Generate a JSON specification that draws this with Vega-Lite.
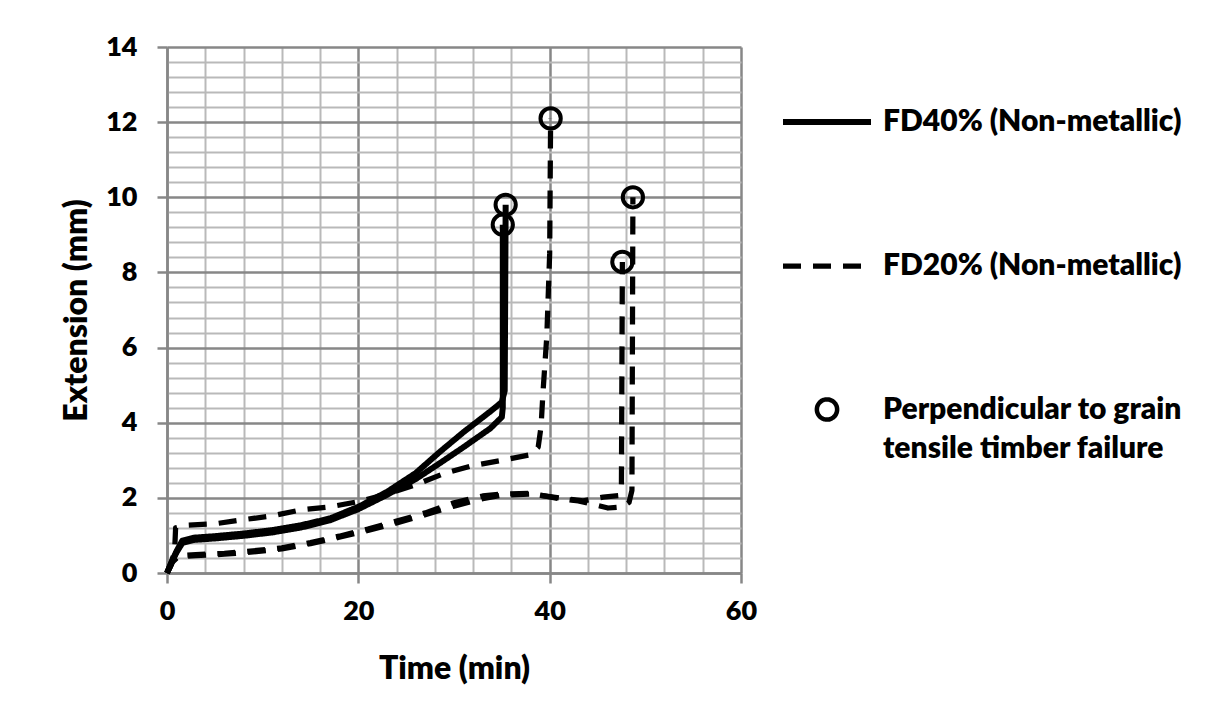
{
  "$schema": "https://vega.github.io/schema/vega-lite/v6.json",
  "width": 574,
  "height": 526,
  "autosize": {"type": "none"},
  "padding": {"left": 167, "top": 47, "right": 466, "bottom": 149},
  "background": "white",
  "config": {"view": {"stroke": null}, "font": "Lato", "style": {"guide-label": {"lineHeight": 39}}},
  "datasets": {
    "curves": [
      {"curve": "S1", "legend": "FD40% (Non-metallic)", "i": 0, "x": 0, "y": 0},
      {"curve": "S1", "legend": "FD40% (Non-metallic)", "i": 1, "x": 0.5, "y": 0.3},
      {"curve": "S1", "legend": "FD40% (Non-metallic)", "i": 2, "x": 1, "y": 0.58},
      {"curve": "S1", "legend": "FD40% (Non-metallic)", "i": 3, "x": 1.6, "y": 0.86},
      {"curve": "S1", "legend": "FD40% (Non-metallic)", "i": 4, "x": 2.8, "y": 0.94},
      {"curve": "S1", "legend": "FD40% (Non-metallic)", "i": 5, "x": 5, "y": 0.98},
      {"curve": "S1", "legend": "FD40% (Non-metallic)", "i": 6, "x": 8, "y": 1.05},
      {"curve": "S1", "legend": "FD40% (Non-metallic)", "i": 7, "x": 11, "y": 1.14},
      {"curve": "S1", "legend": "FD40% (Non-metallic)", "i": 8, "x": 14, "y": 1.27},
      {"curve": "S1", "legend": "FD40% (Non-metallic)", "i": 9, "x": 17, "y": 1.45},
      {"curve": "S1", "legend": "FD40% (Non-metallic)", "i": 10, "x": 20, "y": 1.76},
      {"curve": "S1", "legend": "FD40% (Non-metallic)", "i": 11, "x": 23, "y": 2.16},
      {"curve": "S1", "legend": "FD40% (Non-metallic)", "i": 12, "x": 26, "y": 2.66},
      {"curve": "S1", "legend": "FD40% (Non-metallic)", "i": 13, "x": 28.5, "y": 3.22},
      {"curve": "S1", "legend": "FD40% (Non-metallic)", "i": 14, "x": 31, "y": 3.75},
      {"curve": "S1", "legend": "FD40% (Non-metallic)", "i": 15, "x": 33.8, "y": 4.3},
      {"curve": "S1", "legend": "FD40% (Non-metallic)", "i": 16, "x": 35, "y": 4.55},
      {"curve": "S1", "legend": "FD40% (Non-metallic)", "i": 17, "x": 35.3, "y": 4.85},
      {"curve": "S1", "legend": "FD40% (Non-metallic)", "i": 18, "x": 35.4, "y": 9.8},
      {"curve": "S2", "legend": "FD40% (Non-metallic)", "i": 0, "x": 0, "y": 0},
      {"curve": "S2", "legend": "FD40% (Non-metallic)", "i": 1, "x": 0.5, "y": 0.3},
      {"curve": "S2", "legend": "FD40% (Non-metallic)", "i": 2, "x": 1, "y": 0.55},
      {"curve": "S2", "legend": "FD40% (Non-metallic)", "i": 3, "x": 1.6, "y": 0.8},
      {"curve": "S2", "legend": "FD40% (Non-metallic)", "i": 4, "x": 2.8, "y": 0.88},
      {"curve": "S2", "legend": "FD40% (Non-metallic)", "i": 5, "x": 5, "y": 0.92},
      {"curve": "S2", "legend": "FD40% (Non-metallic)", "i": 6, "x": 8, "y": 0.99},
      {"curve": "S2", "legend": "FD40% (Non-metallic)", "i": 7, "x": 11, "y": 1.08},
      {"curve": "S2", "legend": "FD40% (Non-metallic)", "i": 8, "x": 14, "y": 1.21},
      {"curve": "S2", "legend": "FD40% (Non-metallic)", "i": 9, "x": 17, "y": 1.4},
      {"curve": "S2", "legend": "FD40% (Non-metallic)", "i": 10, "x": 20, "y": 1.7},
      {"curve": "S2", "legend": "FD40% (Non-metallic)", "i": 11, "x": 23, "y": 2.08},
      {"curve": "S2", "legend": "FD40% (Non-metallic)", "i": 12, "x": 26, "y": 2.5},
      {"curve": "S2", "legend": "FD40% (Non-metallic)", "i": 13, "x": 28.5, "y": 2.92},
      {"curve": "S2", "legend": "FD40% (Non-metallic)", "i": 14, "x": 31, "y": 3.35},
      {"curve": "S2", "legend": "FD40% (Non-metallic)", "i": 15, "x": 33.8, "y": 3.85},
      {"curve": "S2", "legend": "FD40% (Non-metallic)", "i": 16, "x": 35, "y": 4.15},
      {"curve": "S2", "legend": "FD40% (Non-metallic)", "i": 17, "x": 35.1, "y": 4.4},
      {"curve": "S2", "legend": "FD40% (Non-metallic)", "i": 18, "x": 35.1, "y": 9.27},
      {"curve": "U", "legend": "FD20% (Non-metallic)", "i": 0, "x": 0, "y": 0},
      {"curve": "U", "legend": "FD20% (Non-metallic)", "i": 1, "x": 0.4, "y": 0.2},
      {"curve": "U", "legend": "FD20% (Non-metallic)", "i": 2, "x": 0.8, "y": 0.6},
      {"curve": "U", "legend": "FD20% (Non-metallic)", "i": 3, "x": 0.9, "y": 1.2},
      {"curve": "U", "legend": "FD20% (Non-metallic)", "i": 4, "x": 2, "y": 1.27},
      {"curve": "U", "legend": "FD20% (Non-metallic)", "i": 5, "x": 5, "y": 1.31},
      {"curve": "U", "legend": "FD20% (Non-metallic)", "i": 6, "x": 8, "y": 1.42},
      {"curve": "U", "legend": "FD20% (Non-metallic)", "i": 7, "x": 11, "y": 1.52},
      {"curve": "U", "legend": "FD20% (Non-metallic)", "i": 8, "x": 14, "y": 1.68},
      {"curve": "U", "legend": "FD20% (Non-metallic)", "i": 9, "x": 17, "y": 1.76},
      {"curve": "U", "legend": "FD20% (Non-metallic)", "i": 10, "x": 20, "y": 1.9},
      {"curve": "U", "legend": "FD20% (Non-metallic)", "i": 11, "x": 23, "y": 2.1},
      {"curve": "U", "legend": "FD20% (Non-metallic)", "i": 12, "x": 26, "y": 2.35},
      {"curve": "U", "legend": "FD20% (Non-metallic)", "i": 13, "x": 29, "y": 2.65},
      {"curve": "U", "legend": "FD20% (Non-metallic)", "i": 14, "x": 32, "y": 2.86},
      {"curve": "U", "legend": "FD20% (Non-metallic)", "i": 15, "x": 35, "y": 3.0},
      {"curve": "U", "legend": "FD20% (Non-metallic)", "i": 16, "x": 38, "y": 3.15},
      {"curve": "U", "legend": "FD20% (Non-metallic)", "i": 17, "x": 38.8, "y": 3.35},
      {"curve": "U", "legend": "FD20% (Non-metallic)", "i": 18, "x": 39.1, "y": 3.9},
      {"curve": "U", "legend": "FD20% (Non-metallic)", "i": 19, "x": 39.3, "y": 4.8},
      {"curve": "U", "legend": "FD20% (Non-metallic)", "i": 20, "x": 39.7, "y": 6.3},
      {"curve": "U", "legend": "FD20% (Non-metallic)", "i": 21, "x": 40, "y": 8.5},
      {"curve": "U", "legend": "FD20% (Non-metallic)", "i": 22, "x": 40.1, "y": 12.1},
      {"curve": "L1", "legend": "FD20% (Non-metallic)", "i": 0, "x": 0, "y": 0},
      {"curve": "L1", "legend": "FD20% (Non-metallic)", "i": 1, "x": 0.6, "y": 0.3},
      {"curve": "L1", "legend": "FD20% (Non-metallic)", "i": 2, "x": 1.2, "y": 0.44},
      {"curve": "L1", "legend": "FD20% (Non-metallic)", "i": 3, "x": 3, "y": 0.46},
      {"curve": "L1", "legend": "FD20% (Non-metallic)", "i": 4, "x": 6, "y": 0.5},
      {"curve": "L1", "legend": "FD20% (Non-metallic)", "i": 5, "x": 9, "y": 0.56},
      {"curve": "L1", "legend": "FD20% (Non-metallic)", "i": 6, "x": 12, "y": 0.64},
      {"curve": "L1", "legend": "FD20% (Non-metallic)", "i": 7, "x": 15, "y": 0.78},
      {"curve": "L1", "legend": "FD20% (Non-metallic)", "i": 8, "x": 18, "y": 0.95},
      {"curve": "L1", "legend": "FD20% (Non-metallic)", "i": 9, "x": 21, "y": 1.13},
      {"curve": "L1", "legend": "FD20% (Non-metallic)", "i": 10, "x": 24, "y": 1.33},
      {"curve": "L1", "legend": "FD20% (Non-metallic)", "i": 11, "x": 27, "y": 1.55},
      {"curve": "L1", "legend": "FD20% (Non-metallic)", "i": 12, "x": 30, "y": 1.78},
      {"curve": "L1", "legend": "FD20% (Non-metallic)", "i": 13, "x": 33, "y": 1.98},
      {"curve": "L1", "legend": "FD20% (Non-metallic)", "i": 14, "x": 35, "y": 2.07},
      {"curve": "L1", "legend": "FD20% (Non-metallic)", "i": 15, "x": 38, "y": 2.1},
      {"curve": "L1", "legend": "FD20% (Non-metallic)", "i": 16, "x": 41, "y": 2.0},
      {"curve": "L1", "legend": "FD20% (Non-metallic)", "i": 17, "x": 43.5, "y": 1.92},
      {"curve": "L1", "legend": "FD20% (Non-metallic)", "i": 18, "x": 45.6, "y": 2.02},
      {"curve": "L1", "legend": "FD20% (Non-metallic)", "i": 19, "x": 47.2, "y": 2.06},
      {"curve": "L1", "legend": "FD20% (Non-metallic)", "i": 20, "x": 47.5, "y": 2.3},
      {"curve": "L1", "legend": "FD20% (Non-metallic)", "i": 21, "x": 47.6, "y": 8.28},
      {"curve": "L2", "legend": "FD20% (Non-metallic)", "i": 0, "x": 0, "y": 0},
      {"curve": "L2", "legend": "FD20% (Non-metallic)", "i": 1, "x": 0.6, "y": 0.32},
      {"curve": "L2", "legend": "FD20% (Non-metallic)", "i": 2, "x": 1.2, "y": 0.46},
      {"curve": "L2", "legend": "FD20% (Non-metallic)", "i": 3, "x": 3, "y": 0.49},
      {"curve": "L2", "legend": "FD20% (Non-metallic)", "i": 4, "x": 6, "y": 0.52},
      {"curve": "L2", "legend": "FD20% (Non-metallic)", "i": 5, "x": 9, "y": 0.59},
      {"curve": "L2", "legend": "FD20% (Non-metallic)", "i": 6, "x": 12, "y": 0.67},
      {"curve": "L2", "legend": "FD20% (Non-metallic)", "i": 7, "x": 15, "y": 0.81},
      {"curve": "L2", "legend": "FD20% (Non-metallic)", "i": 8, "x": 18, "y": 0.98},
      {"curve": "L2", "legend": "FD20% (Non-metallic)", "i": 9, "x": 21, "y": 1.17},
      {"curve": "L2", "legend": "FD20% (Non-metallic)", "i": 10, "x": 24, "y": 1.38},
      {"curve": "L2", "legend": "FD20% (Non-metallic)", "i": 11, "x": 27, "y": 1.6},
      {"curve": "L2", "legend": "FD20% (Non-metallic)", "i": 12, "x": 30, "y": 1.87},
      {"curve": "L2", "legend": "FD20% (Non-metallic)", "i": 13, "x": 33, "y": 2.05},
      {"curve": "L2", "legend": "FD20% (Non-metallic)", "i": 14, "x": 35, "y": 2.1},
      {"curve": "L2", "legend": "FD20% (Non-metallic)", "i": 15, "x": 38, "y": 2.12},
      {"curve": "L2", "legend": "FD20% (Non-metallic)", "i": 16, "x": 41, "y": 1.98},
      {"curve": "L2", "legend": "FD20% (Non-metallic)", "i": 17, "x": 43, "y": 1.92},
      {"curve": "L2", "legend": "FD20% (Non-metallic)", "i": 18, "x": 46.1, "y": 1.73},
      {"curve": "L2", "legend": "FD20% (Non-metallic)", "i": 19, "x": 47.6, "y": 1.76},
      {"curve": "L2", "legend": "FD20% (Non-metallic)", "i": 20, "x": 48.3, "y": 1.88},
      {"curve": "L2", "legend": "FD20% (Non-metallic)", "i": 21, "x": 48.6, "y": 2.2},
      {"curve": "L2", "legend": "FD20% (Non-metallic)", "i": 22, "x": 48.7, "y": 10.0}
    ],
    "failures": [
      {"legend": "Perpendicular to grain tensile timber failure", "x": 35.4, "y": 9.8},
      {"legend": "Perpendicular to grain tensile timber failure", "x": 35.1, "y": 9.27},
      {"legend": "Perpendicular to grain tensile timber failure", "x": 40.1, "y": 12.1},
      {"legend": "Perpendicular to grain tensile timber failure", "x": 47.6, "y": 8.28},
      {"legend": "Perpendicular to grain tensile timber failure", "x": 48.7, "y": 10.0}
    ]
  },
  "encoding": {
    "x": {
      "field": "x",
      "type": "quantitative",
      "scale": {"domain": [0, 60], "nice": false},
      "axis": {
        "title": "Time (min)",
        "values": [0, 4, 8, 12, 16, 20, 24, 28, 32, 36, 40, 44, 48, 52, 56, 60],
        "labelExpr": "datum.value % 20 == 0 ? format(datum.value, 'd') : ''",
        "labelFont": "Lato",
        "labelFontWeight": 800,
        "labelFontSize": 27,
        "labelColor": "black",
        "labelPadding": 15,
        "labelOverlap": false,
        "labelFlush": false,
        "tickSize": 10,
        "tickWidth": 2.5,
        "tickColor": {"condition": {"test": "datum.value % 20 == 0", "value": "#878787"}, "value": "transparent"},
        "domainColor": "#878787",
        "domainWidth": 2.5,
        "grid": true,
        "gridColor": {"condition": {"test": "datum.value % 20 == 0", "value": "#878787"}, "value": "#b9b9b9"},
        "gridWidth": {"condition": {"test": "datum.value % 20 == 0", "value": 2.5}, "value": 2},
        "titleFont": "Lato",
        "titleFontSize": 32,
        "titleFontWeight": 800,
        "titleColor": "black",
        "titlePadding": 29
      }
    },
    "y": {
      "field": "y",
      "type": "quantitative",
      "scale": {"domain": [0, 14], "nice": false},
      "axis": {
        "title": "Extension (mm)",
        "values": [0, 0.4, 0.8, 1.2, 1.6, 2, 2.4, 2.8, 3.2, 3.6, 4, 4.4, 4.8, 5.2, 5.6, 6, 6.4, 6.8, 7.2, 7.6, 8, 8.4, 8.8, 9.2, 9.6, 10, 10.4, 10.8, 11.2, 11.6, 12, 12.4, 12.8, 13.2, 13.6, 14],
        "labelExpr": "abs(datum.value / 2 - round(datum.value / 2)) < 0.001 ? format(datum.value, 'd') : ''",
        "labelFont": "Lato",
        "labelFontWeight": 800,
        "labelFontSize": 27,
        "labelColor": "black",
        "labelPadding": 20,
        "labelOverlap": false,
        "labelFlush": false,
        "tickSize": 10,
        "tickWidth": 2.5,
        "tickColor": {"condition": {"test": "abs(datum.value / 2 - round(datum.value / 2)) < 0.001", "value": "#878787"}, "value": "transparent"},
        "domainColor": "#878787",
        "domainWidth": 2.5,
        "grid": true,
        "gridColor": {"condition": {"test": "abs(datum.value / 2 - round(datum.value / 2)) < 0.001", "value": "#878787"}, "value": "#b9b9b9"},
        "gridWidth": {"condition": {"test": "abs(datum.value / 2 - round(datum.value / 2)) < 0.001", "value": 2.5}, "value": 2},
        "titleFont": "Lato",
        "titleFontSize": 32,
        "titleFontWeight": 800,
        "titleColor": "black",
        "titlePadding": 12
      }
    }
  },
  "layer": [
    {
      "data": {"name": "curves"},
      "mark": {"type": "line", "color": "black", "strokeCap": "butt", "strokeJoin": "round"},
      "encoding": {
        "detail": {"field": "curve"},
        "order": {"field": "i", "type": "quantitative"},
        "strokeDash": {
          "field": "legend",
          "type": "nominal",
          "scale": {
            "domain": ["FD40% (Non-metallic)", "FD20% (Non-metallic)", "Perpendicular to grain tensile timber failure"],
            "range": [[1, 0], [18, 12], [1, 0]]
          },
          "legend": {"title": null}
        },
        "strokeWidth": {
          "field": "legend",
          "type": "nominal",
          "scale": {
            "domain": ["FD40% (Non-metallic)", "FD20% (Non-metallic)", "Perpendicular to grain tensile timber failure"],
            "range": [6, 4.5, 4]
          },
          "legend": {"title": null}
        }
      }
    },
    {
      "data": {"name": "failures"},
      "mark": {"type": "point", "filled": false, "stroke": "black", "strokeWidth": 4, "size": 7744, "opacity": 1},
      "encoding": {
        "shape": {
          "field": "legend",
          "type": "nominal",
          "scale": {
            "domain": ["FD40% (Non-metallic)", "FD20% (Non-metallic)", "Perpendicular to grain tensile timber failure"],
            "range": ["M-1,0H1", "M-1,0H1", "M0.23,0A0.23,0.23,0,1,1,-0.23,0A0.23,0.23,0,1,1,0.23,0Z"]
          },
          "legend": {
            "orient": "none",
            "legendX": 613,
            "legendY": 28,
            "title": null,
            "symbolSize": 7744,
            "symbolStrokeWidth": 4.5,
            "symbolStrokeColor": "black",
            "symbolFillColor": "transparent",
            "labelFont": "Lato",
            "labelFontSize": 30,
            "labelFontWeight": 800,
            "labelColor": "black",
            "labelOffset": 9,
            "labelLimit": 600,
            "rowPadding": 82,
            "labelExpr": "datum.value == 'Perpendicular to grain tensile timber failure' ? ['Perpendicular to grain', 'tensile timber failure'] : datum.label"
          }
        }
      }
    }
  ]
}
